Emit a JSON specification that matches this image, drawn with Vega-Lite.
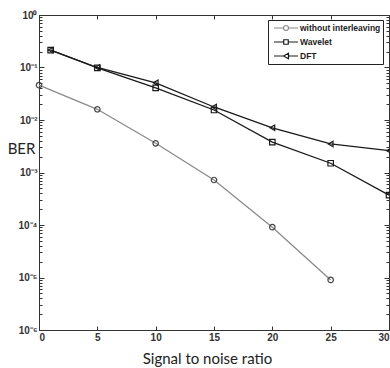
{
  "$schema": "https://vega.github.io/schema/vega-lite/v6.json",
  "width": 350,
  "height": 315,
  "autosize": {"type": "none"},
  "padding": {"left": 39, "top": 15, "right": 1, "bottom": 38},
  "background": "white",
  "config": {
    "view": {"stroke": null},
    "axis": {
      "grid": false,
      "domainColor": "#333333",
      "tickColor": "#333333",
      "labelFont": "Liberation Sans",
      "labelFontSize": 10,
      "labelFontWeight": "bold",
      "labelColor": "#333333",
      "titleFont": "Lato",
      "titleFontWeight": "normal",
      "titleFontSize": 15,
      "titleColor": "#222222"
    }
  },
  "data": {
    "values": [
      {"snr": 0, "ber": 0.046, "series": "without interleaving"},
      {"snr": 5, "ber": 0.016, "series": "without interleaving"},
      {"snr": 10, "ber": 0.0036, "series": "without interleaving"},
      {"snr": 15, "ber": 0.00072, "series": "without interleaving"},
      {"snr": 20, "ber": 0.000091, "series": "without interleaving"},
      {"snr": 25, "ber": 0.0000090, "series": "without interleaving"},
      {"snr": 1, "ber": 0.215, "series": "Wavelet"},
      {"snr": 5, "ber": 0.098, "series": "Wavelet"},
      {"snr": 10, "ber": 0.041, "series": "Wavelet"},
      {"snr": 15, "ber": 0.0155, "series": "Wavelet"},
      {"snr": 20, "ber": 0.0038, "series": "Wavelet"},
      {"snr": 25, "ber": 0.0015, "series": "Wavelet"},
      {"snr": 30, "ber": 0.00037, "series": "Wavelet"},
      {"snr": 1, "ber": 0.215, "series": "DFT"},
      {"snr": 5, "ber": 0.1, "series": "DFT"},
      {"snr": 10, "ber": 0.051, "series": "DFT"},
      {"snr": 15, "ber": 0.0177, "series": "DFT"},
      {"snr": 20, "ber": 0.0071, "series": "DFT"},
      {"snr": 25, "ber": 0.0035, "series": "DFT"},
      {"snr": 30, "ber": 0.0026, "series": "DFT"}
    ]
  },
  "resolve": {"axis": {"x": "independent", "y": "independent"}},
  "layer": [
    {
      "mark": {"type": "line", "strokeWidth": 1.3},
      "encoding": {
        "x": {
          "field": "snr", "type": "quantitative",
          "scale": {"domain": [0, 30], "nice": false, "zero": false},
          "axis": {
            "orient": "bottom",
            "title": "Signal to noise ratio",
            "values": [0, 5, 10, 15, 20, 25, 30],
            "tickSize": -4,
            "labelPadding": 6,
            "titleX": 168,
            "titleAlign": "center",
            "titleBaseline": "middle",
            "titleY": 28
          }
        },
        "y": {
          "field": "ber", "type": "quantitative",
          "scale": {"type": "log", "domain": [0.000001, 1], "nice": false},
          "axis": {
            "orient": "left",
            "title": "BER",
            "titleAngle": 0,
            "titleAlign": "center",
            "titleBaseline": "middle",
            "titleX": -18,
            "titleY": 133,
            "values": [0.000001,0.000002,0.000003,0.000004,0.000005,0.000006,0.000007,0.000008,0.000009,0.00001,0.00002,0.00003,0.00004,0.00005,0.00006,0.00007,0.00008,0.00009,0.0001,0.0002,0.0003,0.0004,0.0005,0.0006,0.0007,0.0008,0.0009,0.001,0.002,0.003,0.004,0.005,0.006,0.007,0.008,0.009,0.01,0.02,0.03,0.04,0.05,0.06,0.07,0.08,0.09,0.1,0.2,0.3,0.4,0.5,0.6,0.7,0.8,0.9,1],
            "labelExpr": "abs(log(datum.value)/LN10 - round(log(datum.value)/LN10)) < 0.01 ? (round(log(datum.value)/LN10) == 0 ? '10⁰' : '10⁻' + ['','¹','²','³','⁴','⁵','⁶'][-round(log(datum.value)/LN10)]) : ''",
            "tickSize": {"condition": {"test": "abs(log(datum.value)/LN10 - round(log(datum.value)/LN10)) < 0.01", "value": -5}, "value": -3},
            "labelPadding": 7
          }
        },
        "stroke": {
          "field": "series", "type": "nominal",
          "scale": {"domain": ["without interleaving", "Wavelet", "DFT"], "range": ["#8a8a8a", "#1a1a1a", "#1a1a1a"]}
        }
      }
    },
    {
      "mark": {"type": "point", "filled": false, "strokeWidth": 1.2, "size": 30, "opacity": 1},
      "encoding": {
        "x": {
          "field": "snr", "type": "quantitative",
          "scale": {"domain": [0, 30], "nice": false, "zero": false},
          "axis": {"orient": "top", "title": null, "labels": false, "values": [0, 5, 10, 15, 20, 25, 30], "tickSize": -4}
        },
        "y": {
          "field": "ber", "type": "quantitative",
          "scale": {"type": "log", "domain": [0.000001, 1], "nice": false},
          "axis": {
            "orient": "right", "title": null, "labels": false,
            "values": [0.000001,0.000002,0.000003,0.000004,0.000005,0.000006,0.000007,0.000008,0.000009,0.00001,0.00002,0.00003,0.00004,0.00005,0.00006,0.00007,0.00008,0.00009,0.0001,0.0002,0.0003,0.0004,0.0005,0.0006,0.0007,0.0008,0.0009,0.001,0.002,0.003,0.004,0.005,0.006,0.007,0.008,0.009,0.01,0.02,0.03,0.04,0.05,0.06,0.07,0.08,0.09,0.1,0.2,0.3,0.4,0.5,0.6,0.7,0.8,0.9,1],
            "tickSize": {"condition": {"test": "abs(log(datum.value)/LN10 - round(log(datum.value)/LN10)) < 0.01", "value": -5}, "value": -3}
          }
        },
        "stroke": {
          "condition": {"test": "datum.series === 'without interleaving'", "value": "#444444"},
          "value": "#1a1a1a"
        },
        "shape": {
          "condition": [
            {"test": "datum.series === 'Wavelet'", "value": "square"},
            {"test": "datum.series === 'DFT'", "value": "triangle-left"}
          ],
          "value": "circle"
        }
      }
    },
    {
      "transform": [{"filter": "false"}],
      "mark": {"type": "point", "filled": false, "strokeWidth": 1.2, "opacity": 1},
      "encoding": {
        "x": {"field": "snr", "type": "quantitative", "axis": null},
        "y": {"field": "ber", "type": "quantitative", "axis": null},
        "stroke": {"field": "series", "type": "nominal"},
        "shape": {
          "field": "series", "type": "nominal",
          "scale": {
            "domain": ["without interleaving", "Wavelet", "DFT"],
            "range": [
              "M-2.4,0L-0.5,0M0.5,0L2.4,0M-0.5,0A0.5,0.5 0 1,1 0.5,0A0.5,0.5 0 1,1 -0.5,0Z",
              "M-2.4,0L-0.45,0M0.45,0L2.4,0M-0.45,-0.45L0.45,-0.45L0.45,0.45L-0.45,0.45Z",
              "M-2.4,0L-0.5,0M0.5,0L2.4,0M-0.5,0L0.5,-0.55L0.5,0.55Z"
            ]
          },
          "legend": {
            "title": null,
            "orient": "none",
            "legendX": 229,
            "legendY": 5,
            "strokeColor": "#222222",
            "fillColor": "white",
            "padding": 2,
            "rowPadding": 3,
            "symbolSize": 100,
            "symbolOffset": 10,
            "symbolStrokeWidth": 1.2,
            "symbolFillColor": "transparent",
            "labelFont": "Liberation Sans",
            "labelFontSize": 8.5,
            "labelFontWeight": "bold",
            "labelColor": "#222222",
            "labelOffset": 8
          }
        }
      }
    }
  ]
}
